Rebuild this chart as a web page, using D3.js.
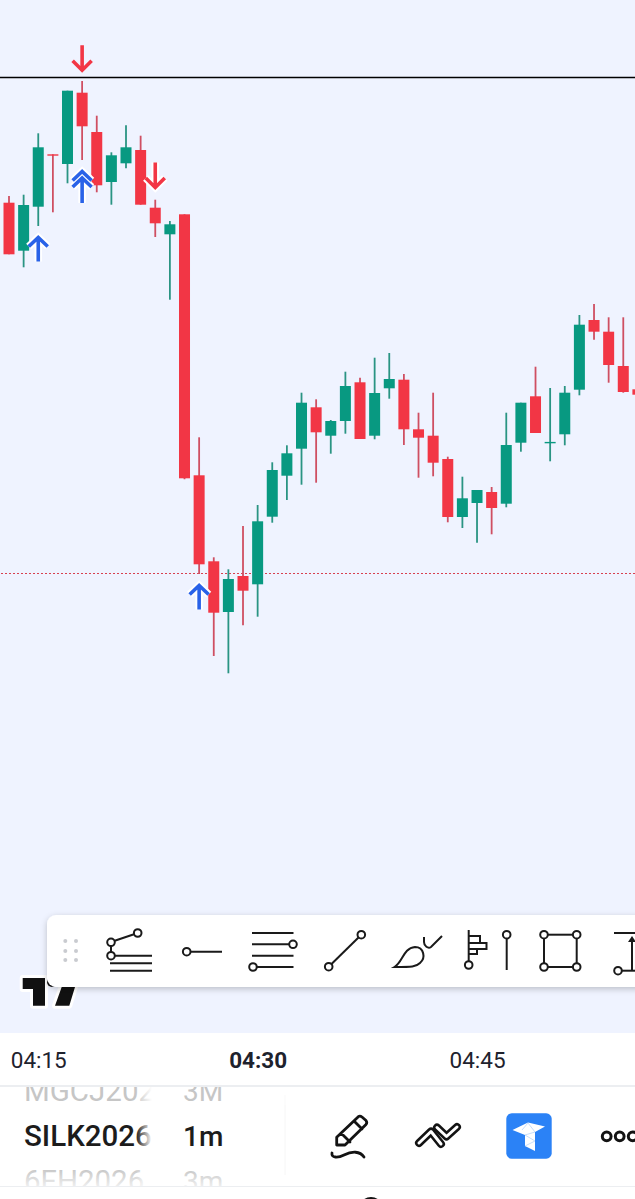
<!DOCTYPE html>
<html><head><meta charset="utf-8">
<script src="https://cdn.jsdelivr.net/npm/d3@7/dist/d3.min.js"></script>
<style>html,body{margin:0;padding:0;background:#fff;overflow:hidden}svg{display:block}text{font-family:Roboto,sans-serif}</style>
</head><body><div id="c"></div>
<script>
const times=["04:13","04:14","04:15","04:16","04:17","04:18","04:19","04:20","04:21","04:22","04:23","04:24","04:25","04:26","04:27","04:28","04:29","04:30","04:31","04:32","04:33","04:34","04:35","04:36","04:37","04:38","04:39","04:40","04:41","04:42","04:43","04:44","04:45","04:46","04:47","04:48","04:49","04:50","04:51","04:52","04:53","04:54","04:55","04:56"];
const opens=[99.73,94.93,99.33,104.57,103.6,110.73,106.8,101.8,103.67,105,99.23,96.57,98.57,72.47,63.87,58.8,62.4,61.57,68.33,72.43,75.13,79.27,76.43,77.9,81.77,76.43,81.17,82.03,77.07,76.43,74.1,68.3,69.7,70.8,69.63,75.73,80.37,75.8,76.57,81.03,88,86.83,83.4,81.07];
const highs=[100.4,100.53,106.67,104.57,110.93,111.9,108.43,104.77,107.47,106.43,100.03,97.9,98.57,76.27,64.27,63.07,67.4,69.5,73.77,75.47,80.73,80.07,78,82.83,82.23,84.23,84.7,82.6,78.73,80.73,74.33,72.33,71,71.3,78.73,79.73,83.33,81.2,81.4,88.5,89.6,88.27,88.27,81.07];
const lows=[94.57,93.27,97.4,98.77,101.67,104,100.77,99.53,103.17,99.53,96.3,90.03,72.07,62.6,54.4,52.67,57.47,58.33,67.73,70,71.53,71.73,74.63,76.63,76.1,76.07,80.13,75.5,72.23,72.37,67.77,67.2,65.73,66.57,69.27,74.83,76.7,73.87,75.47,80.47,86.03,81.73,80.73,80.53];
const closes=[94.57,99.5,105.27,104.56,110.93,107.37,101.47,104.47,105.27,99.53,97.67,97.57,72.17,63.57,58.73,62.1,60.93,67.87,73,74.67,79.73,76.77,77.9,81.4,76.1,80.7,82.1,77.07,76.23,73.73,68.3,70.17,71,69.2,75.5,79.73,76.7,75.81,80.73,87.53,86.83,83.5,80.8,80.53];
const tickLabels=["04:15","04:30","04:45"];
const levelPrices=[112.25,62.65];
const signalTimes=["04:18","04:23","04:15","04:18","04:26"];
const signalKinds=["down","down","up","double","up"];
const signalPrices=[112.83,101.1,96.4,103,61.6];

const W=635,H=1199,bg="#eff3ff",up="#089981",dn="#f23645",wUp="#2a9483",wDn="#cf4f62",blue="#2962e8",ink="#131722";
const parse=d3.timeParse("%H:%M");
const x=d3.scaleTime().domain([parse("04:13"),parse("04:56")]).range([9,637.9]);
const y=d3.scaleLinear().domain([120,0]).range([0,1200]);
const svg=d3.select("#c").append("svg").attr("width",W).attr("height",H).attr("viewBox",`0 0 ${W} ${H}`);
const defs=svg.append("defs");
const f=defs.append("filter").attr("id","sh").attr("x","-5%").attr("y","-20%").attr("width","110%").attr("height","150%");
f.append("feDropShadow").attr("dx",0).attr("dy",2).attr("stdDeviation",3).attr("flood-color","#000").attr("flood-opacity",.22);
const gr=defs.append("linearGradient").attr("id","fade").attr("x1",0).attr("x2",1).attr("y1",0).attr("y2",0);
gr.append("stop").attr("offset",0).attr("stop-color","#fff").attr("stop-opacity",0);
gr.append("stop").attr("offset",1).attr("stop-color","#fff").attr("stop-opacity",1);
const gv=defs.append("linearGradient").attr("id","fadeV").attr("x1",0).attr("x2",0).attr("y1",0).attr("y2",1);
gv.append("stop").attr("offset",0).attr("stop-color","#fff").attr("stop-opacity",.25);
gv.append("stop").attr("offset",1).attr("stop-color","#fff").attr("stop-opacity",.8);

svg.append("rect").attr("width",W).attr("height",1033).attr("fill",bg);

// level lines
svg.append("line").attr("x1",0).attr("x2",W).attr("y1",y(levelPrices[0])).attr("y2",y(levelPrices[0])).attr("stroke","#000").attr("stroke-width",1.5);
svg.append("line").attr("x1",1).attr("x2",W).attr("y1",Math.floor(y(levelPrices[1]))+.5).attr("y2",Math.floor(y(levelPrices[1]))+.5).attr("stroke","#d8404f").attr("stroke-width",1).attr("stroke-dasharray","2 2");

// candles
const bars=times.map((t,i)=>({t:parse(t),o:opens[i],h:highs[i],l:lows[i],c:closes[i]}));
const g=svg.append("g").selectAll("g").data(bars).join("g");
g.append("line").attr("x1",d=>x(d.t)).attr("x2",d=>x(d.t)).attr("y1",d=>y(d.h)).attr("y2",d=>y(d.l))
 .attr("stroke",d=>d.c>=d.o?wUp:wDn).attr("stroke-width",1.8);
g.append("rect").attr("x",d=>x(d.t)-5.5).attr("width",11).attr("y",d=>y(Math.max(d.o,d.c)))
 .attr("height",d=>Math.max(1.4,Math.abs(y(d.o)-y(d.c))))
 .attr("fill",d=>d.c>=d.o?up:dn);

// signals
const shapes={
 down:{p:"M0,-26.5V-2M-9.5,-11L0,-1.5L9.5,-11",c:dn},
 up:{p:"M0,25.5V2M-9.5,10.5L0,1.5L9.5,10.5",c:blue},
 double:{p:"M0,33V9M-9.5,17L0,8L9.5,17M-9.5,10.5L0,1.5L9.5,10.5",c:blue}
};
signalTimes.forEach((t,i)=>{
 const s=shapes[signalKinds[i]];
 const m=svg.append("g").attr("transform",`translate(${x(parse(t))},${y(signalPrices[i])})`);
 if(i>0) m.append("path").attr("d",s.p).attr("fill","none").attr("stroke","#fff").attr("stroke-width",7.5);
 m.append("path").attr("d",s.p).attr("fill","none").attr("stroke",s.c).attr("stroke-width",3.6);
});

// TradingView logo
const logo="M22.7,978H45V1005.7H33V989H22.7ZM61.7,987H75L69.3,1005.7H55Z";
svg.append("path").attr("d",logo).attr("fill","#fff").attr("stroke","#fff").attr("stroke-width",6).attr("stroke-linejoin","round");
svg.append("path").attr("d",logo).attr("fill","#111");
svg.append("circle").attr("cx",52).attr("cy",982).attr("r",5).attr("fill","#111");

// toolbar
svg.append("rect").attr("x",47).attr("y",915).attr("width",640).attr("height",72).attr("rx",9).attr("fill","#fff").attr("filter","url(#sh)");
const tb=svg.append("g").attr("fill","none").attr("stroke","#1a1a1a").attr("stroke-width",2);
[65.3,76].forEach(cx=>[941,951,960].forEach(cy=>svg.append("circle").attr("cx",cx).attr("cy",cy).attr("r",2).attr("fill","#c9cbd0")));
const L=(a,b,c,d)=>tb.append("line").attr("x1",a).attr("y1",b).attr("x2",c).attr("y2",d);
const C=(a,b)=>tb.append("circle").attr("cx",a).attr("cy",b).attr("r",3.8).attr("fill","#fff");
const P=d=>tb.append("path").attr("d",d);
L(111,942,137.7,933);L(111,942,111,955.7);L(111,955.7,152,955.7);L(110,963.3,152,963.3);L(110,970.7,152,970.7);
C(111,942.3);C(137.7,933);C(111,955.7);
L(186.7,951.7,222,951.7);C(186.7,951.7);
L(252,933,293.5,933);L(252,944.3,290,944.3);L(252,955.7,293.5,955.7);L(253,967,293.5,967);C(293,944.3);C(253,967);
L(328.7,966.7,361.3,934.7);C(328.7,966.7);C(361.3,934.7);
P("M394.5,967C403,962 403,948 415,947C424,947 426,958 420,963C416,967 412,967 394.5,967Z");
P("M424,937V942C424,946 428,949 431,947L442,936");
L(468.7,930,468.7,962);C(468.7,965);
P("M468.7,936H480V943H486.5V949H477V954H468.7M468.7,943H480M468.7,949H477");
L(506.7,934.7,506.7,970);C(506.7,934.7);
tb.append("rect").attr("x",544).attr("y",934.7).attr("width",32.7).attr("height",32.3);
C(544,934.7);C(576.7,934.7);C(544,967);C(576.7,967);
L(614,933,635,933);L(618,970.7,635,970.7);L(632,938,632,970);C(618,970.7);
svg.append("path").attr("d","M632,936L628,942H636Z").attr("fill","#1a1a1a");

// time axis
svg.append("rect").attr("y",1033).attr("width",W).attr("height",166).attr("fill","#fff");
const axis=d3.axisBottom(x).tickValues(tickLabels.map(parse)).tickFormat(d3.timeFormat("%H:%M")).tickSize(0).tickPadding(0);
const ax=svg.append("g").attr("transform","translate(0,1045)").call(axis);
ax.select(".domain").remove();
ax.selectAll("text").attr("font-family","Roboto,sans-serif").attr("font-size",22.5).attr("fill","#1e222d").attr("dy","1em")
 .attr("font-weight",d=>d3.timeFormat("%H:%M")(d)==="04:30"?700:400);
svg.append("rect").attr("y",1085).attr("width",W).attr("height",2).attr("fill","#eceef1");
svg.append("rect").attr("y",1186).attr("width",W).attr("height",1).attr("fill","#eceef1");
svg.append("line").attr("x1",285).attr("x2",285).attr("y1",1095).attr("y2",1175).attr("stroke","#f6f6f6");

// symbol list
defs.append("clipPath").attr("id","lst").append("rect").attr("y",1087).attr("width",W).attr("height",99);
const lst=svg.append("g").attr("clip-path","url(#lst)").attr("font-size",29.5);
[["MGCJ2026","3M",1101,"#a8a8a8",400],["SILK2026","1m",1146,"#1c1c1c",500],["6FH2026","3m",1191,"#a8a8a8",400]].forEach(r=>{
 lst.append("text").attr("x",24).attr("y",r[2]).attr("fill",r[3]).attr("font-weight",r[4]).text(r[0]);
 lst.append("text").attr("x",183).attr("y",r[2]).attr("fill",r[3]).attr("font-size",28).attr("font-weight",r[4]).text(r[1]);
});
svg.append("rect").attr("x",152).attr("y",1087).attr("width",30).attr("height",99).attr("fill","#fff");
svg.append("rect").attr("x",136).attr("y",1087).attr("width",16).attr("height",99).attr("fill","url(#fade)");
svg.append("rect").attr("x",0).attr("y",1087).attr("width",W).attr("height",18).attr("fill","#fff").attr("opacity",.35);
svg.append("rect").attr("x",0).attr("y",1165).attr("width",280).attr("height",21).attr("fill","url(#fadeV)");

// bottom icons
const bi=svg.append("g").attr("fill","none").attr("stroke","#131313").attr("stroke-width",2.8).attr("stroke-linejoin","round").attr("stroke-linecap","round");
bi.append("path").attr("d","M336.7,1145V1137.3L358.3,1116.7Q360,1115.5 362,1117L366,1120.5Q367.5,1122.5 366,1124.5L345,1145ZM341,1133L350,1142M354,1121L362,1129");
bi.append("path").attr("d","M332,1153C331,1158 338,1158 344,1155C352,1151 360,1151 364,1157");
const zz=["M419,1143L431,1131.5L441,1144","M437,1127.5L446.5,1136.5L457,1127"];
zz.forEach(d=>{bi.append("path").attr("d",d).attr("stroke-width",8);});
zz.forEach(d=>{bi.append("path").attr("d",d).attr("stroke","#fff").attr("stroke-width",3);});
svg.append("rect").attr("x",506.3).attr("y",1113.3).attr("width",45.4).attr("height",45.4).attr("rx",5.5).attr("fill","#2b82f6");
svg.append("path").attr("d","M512.5,1130L528,1122.5L545,1126.5L535,1132V1151L525,1146V1135Z").attr("fill","#fff");
svg.append("path").attr("d","M522,1130L528,1123L535,1132L525,1135L535,1141L525,1146").attr("fill","none").attr("stroke","#b9d4f7").attr("stroke-width",.8);
[606.7,619.7,632.7].forEach(cx=>bi.append("circle").attr("cx",cx).attr("cy",1136.3).attr("r",4.4).attr("stroke-width",3));
svg.append("circle").attr("cx",371).attr("cy",1209).attr("r",11).attr("fill","none").attr("stroke","#131313").attr("stroke-width",2);
</script></body></html>
